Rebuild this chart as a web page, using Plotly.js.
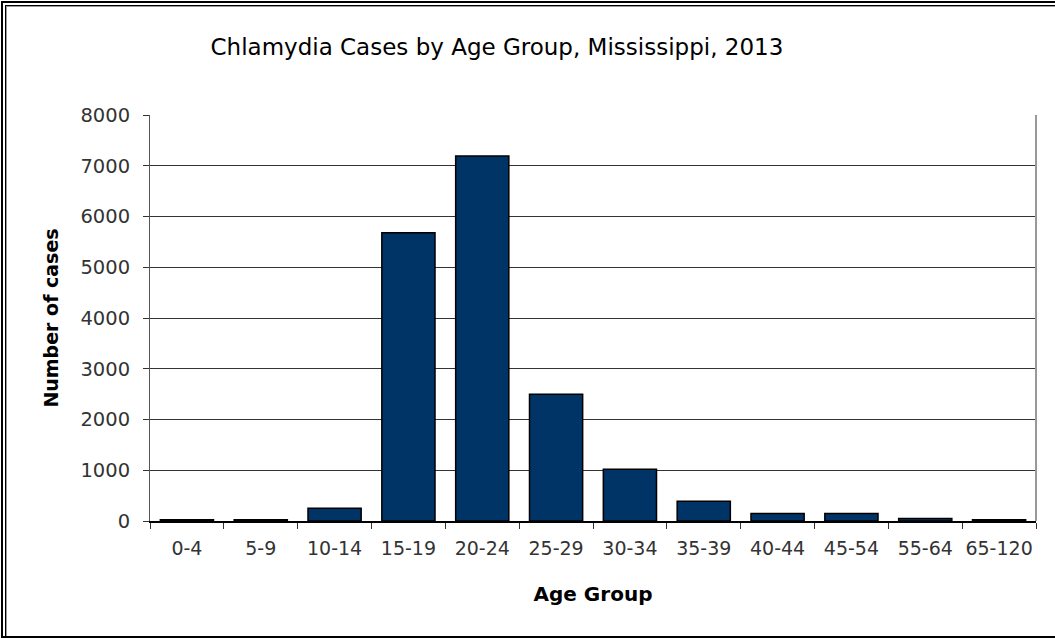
<!DOCTYPE html>
<html>
<head>
<meta charset="utf-8">
<script src="https://cdn.plot.ly/plotly-3.0.1.min.js"></script>
<style>
  html, body { margin: 0; padding: 0; background: #fff; }
  #wrap { position: relative; width: 1055px; height: 638px; overflow: hidden; }
  #chart { position: absolute; left: 0; top: 0; width: 1055px; height: 638px; }
  .ln { position: absolute; pointer-events: none; }
</style>
</head>
<body>
<div id="wrap">
  <div id="chart"></div>
  <div class="ln" style="left:1px;top:1px;width:2px;height:637px;background:#000"></div>
  <div class="ln" style="left:1px;top:1px;width:1054px;height:2px;background:#000"></div>
  <div class="ln" style="left:5px;top:5px;width:1px;height:633px;background:#000"></div>
  <div class="ln" style="left:5px;top:5px;width:1050px;height:1px;background:#000"></div>
  <div class="ln" style="left:6px;top:6px;width:1px;height:632px;background:#999"></div>
  <div class="ln" style="left:6px;top:6px;width:1049px;height:1px;background:#999"></div>
  <div class="ln" style="left:1px;top:636px;width:1054px;height:2px;background:#000"></div>
</div>
<script>
const ageGroups = ["0-4", "5-9", "10-14", "15-19", "20-24", "25-29", "30-34", "35-39", "40-44", "45-54", "55-64", "65-120"];
const cases = [25, 25, 250, 5680, 7190, 2500, 1020, 390, 150, 150, 50, 25];
const yTickValues = [0, 1000, 2000, 3000, 4000, 5000, 6000, 7000, 8000];

const trace = {
  type: "bar",
  x: ageGroups,
  y: cases,
  marker: { color: "#003366", line: { color: "#000000", width: 1.5 } },
  hoverinfo: "x+y"
};

const layout = {
  width: 1055,
  height: 638,
  margin: { l: 150, r: 19, t: 115, b: 117 },
  paper_bgcolor: "rgba(0,0,0,0)",
  plot_bgcolor: "#ffffff",
  showlegend: false,
  bargap: 0.28,
  title: {
    text: "Chlamydia Cases by Age Group, Mississippi, 2013",
    font: { family: "DejaVu Sans", size: 23, color: "#000" },
    x: 0.471, xanchor: "center",
    y: 0.927, yanchor: "middle",
    xref: "container", yref: "container"
  },
  xaxis: {
    type: "category",
    tickson: "boundaries",
    ticks: "outside",
    ticklen: 6,
    tickcolor: "#333",
    tickwidth: 1,
    tickangle: 0,
    ticklabelstandoff: 10,
    showline: true,
    linecolor: "#000",
    linewidth: 1.5,
    showgrid: false,
    tickfont: { family: "DejaVu Sans", size: 19, color: "#333" },
    title: {
      text: "Age Group",
      font: { family: "DejaVu Sans", size: 20, color: "#000", weight: "bold" },
      standoff: 28
    },
    automargin: false
  },
  yaxis: {
    range: [0, 8000],
    tickvals: yTickValues,
    ticks: "outside",
    ticklen: 6,
    tickcolor: "#333",
    ticklabelstandoff: 9,
    showline: true,
    linecolor: "#555",
    linewidth: 1,
    showgrid: true,
    gridcolor: "#333",
    gridwidth: 1,
    zeroline: false,
    tickfont: { family: "DejaVu Sans", size: 19.5, color: "#333" },
    title: {
      text: "Number of cases",
      font: { family: "DejaVu Sans", size: 19, color: "#000", weight: "bold" },
      standoff: 16
    },
    automargin: false
  },
  shapes: [
    { type: "line", xref: "paper", yref: "paper", x0: 1, x1: 1, y0: 0, y1: 1,
      line: { color: "#999", width: 2 } }
  ]
};

Plotly.newPlot("chart", [trace], layout, { displayModeBar: false, staticPlot: true });
</script>
</body>
</html>
